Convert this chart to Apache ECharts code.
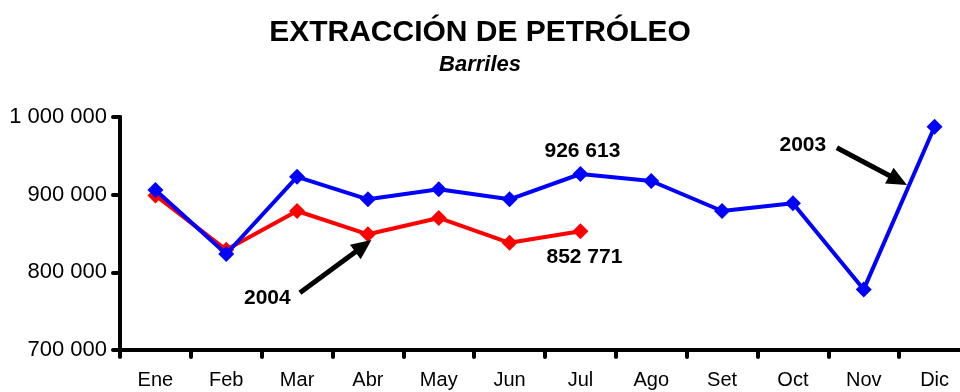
<!DOCTYPE html>
<html>
<head>
<meta charset="utf-8">
<style>
  html, body { margin: 0; padding: 0; background: #fff; overflow: hidden; }
  #wrap { width: 960px; height: 392px; overflow: hidden; }
  #chart { width: 980px; height: 392px; }
</style>
<script src="https://cdn.jsdelivr.net/npm/echarts@6/dist/echarts.min.js"></script>
</head>
<body>
<div id="wrap"><div id="chart"></div></div>
<script>
// Monthly oil extraction, barrels
const months = ['Ene', 'Feb', 'Mar', 'Abr', 'May', 'Jun', 'Jul', 'Ago', 'Set', 'Oct', 'Nov', 'Dic'];
const values2003 = [906000, 823600, 923000, 894000, 907000, 894000, 926613, 917600, 879000, 889000, 778000, 987500];
const values2004 = [899000, 829000, 879000, 849000, 870000, 838000, 852771];
const yMin = 700000;
const yMax = 1000000;
const yStep = 100000;
const labelledMonth = 6; // Jul carries the value labels

// Year callouts: text anchor, arrow tail and arrow tip in (month index, barrels)
const callouts = [
  { text: '2004', at: [1.58, 767000], from: [2.04, 773800], to: [3.05, 841600] },
  { text: '2003', at: [9.14, 963900], from: [9.62, 960500], to: [10.61, 912400] }
];

const FONT = "'Liberation Sans', Arial, sans-serif";
const PAGE_CENTER = 480; // visible page is 960 wide; the plot runs off its right edge
const fmt = v => String(Math.round(v)).replace(/\B(?=(\d{3})+(?!\d))/g, ' ');

function withLabel(arr, pos, offset) {
  return arr.map((v, i) => i === labelledMonth
    ? { value: v, label: { show: true, position: pos, distance: pos === 'top' ? 4 : 7, offset: offset } }
    : v);
}

const chart = echarts.init(document.getElementById('chart'), null, { renderer: 'canvas' });

const labelStyle = {
  fontFamily: FONT, fontWeight: 'bold', fontSize: 21, color: '#000',
  formatter: p => fmt(p.value)
};

chart.setOption({
  animation: false,
  backgroundColor: '#fff',
  grid: { left: 120, top: 117, bottom: 42, right: 10, containLabel: false },
  xAxis: {
    type: 'category',
    data: months,
    boundaryGap: true,
    axisLine: { lineStyle: { color: '#000', width: 4 } },
    axisTick: { show: true, length: 7, lineStyle: { color: '#000', width: 4, cap: 'round' } },
    axisLabel: { fontFamily: FONT, fontSize: 20, color: '#000', margin: 20 },
    splitLine: { show: false }
  },
  yAxis: {
    type: 'value',
    min: yMin, max: yMax, interval: yStep,
    axisLine: { show: true, lineStyle: { color: '#000', width: 4 } },
    axisTick: { show: true, length: 7, lineStyle: { color: '#000', width: 4, cap: 'round' } },
    axisLabel: { fontFamily: FONT, fontSize: 22, color: '#000', margin: 13, formatter: fmt },
    splitLine: { show: false }
  },
  series: [
    {
      name: '2004', type: 'line', data: withLabel(values2004, 'bottom', [4, 0]),
      symbol: 'diamond', symbolSize: 16, z: 2,
      lineStyle: { color: '#ff0000', width: 4 },
      itemStyle: { color: '#ff0000' },
      label: labelStyle
    },
    {
      name: '2003', type: 'line', data: withLabel(values2003, 'top', [2, 0]),
      symbol: 'diamond', symbolSize: 16, z: 3,
      lineStyle: { color: '#0000ff', width: 4 },
      itemStyle: { color: '#0000ff' },
      label: labelStyle
    }
  ]
});

// Map a (fractional month index, barrels) pair to pixels through the axes
function toPx(pt) {
  const i0 = Math.floor(pt[0]);
  const f = pt[0] - i0;
  const a = chart.convertToPixel({ gridIndex: 0 }, [i0, pt[1]]);
  const b = chart.convertToPixel({ gridIndex: 0 }, [i0 + 1, pt[1]]);
  return [a[0] + (b[0] - a[0]) * f, a[1]];
}

const elements = [
  { type: 'text', x: PAGE_CENTER, y: 33,
    style: { text: 'EXTRACCIÓN DE PETRÓLEO', fontFamily: FONT, fontWeight: 'bold', fontSize: 30,
             fill: '#000', align: 'center', verticalAlign: 'middle' } },
  { type: 'text', x: PAGE_CENTER, y: 65,
    style: { text: 'Barriles', fontFamily: FONT, fontWeight: 'bold', fontStyle: 'italic', fontSize: 22,
             fill: '#000', align: 'center', verticalAlign: 'middle' } }
];
callouts.forEach(c => {
  const t = toPx(c.at), p0 = toPx(c.from), p1 = toPx(c.to);
  const dx = p1[0] - p0[0], dy = p1[1] - p0[1];
  const len = Math.hypot(dx, dy), ux = dx / len, uy = dy / len;
  const headLen = 20, headHalf = 9;
  const bx = p1[0] - ux * headLen, by = p1[1] - uy * headLen;
  elements.push({
    type: 'line', z: 10,
    shape: { x1: p0[0], y1: p0[1], x2: bx + ux * 2, y2: by + uy * 2 },
    style: { stroke: '#000', lineWidth: 5 }
  });
  elements.push({
    type: 'polygon', z: 10,
    shape: { points: [p1, [bx - uy * headHalf, by + ux * headHalf], [bx + uy * headHalf, by - ux * headHalf]] },
    style: { fill: '#000' }
  });
  elements.push({
    type: 'text', z: 10, x: t[0], y: t[1],
    style: { text: c.text, fontFamily: FONT, fontWeight: 'bold', fontSize: 21, fill: '#000',
             align: 'center', verticalAlign: 'middle' }
  });
});
chart.setOption({ graphic: { elements: elements } });
</script>
</body>
</html>
